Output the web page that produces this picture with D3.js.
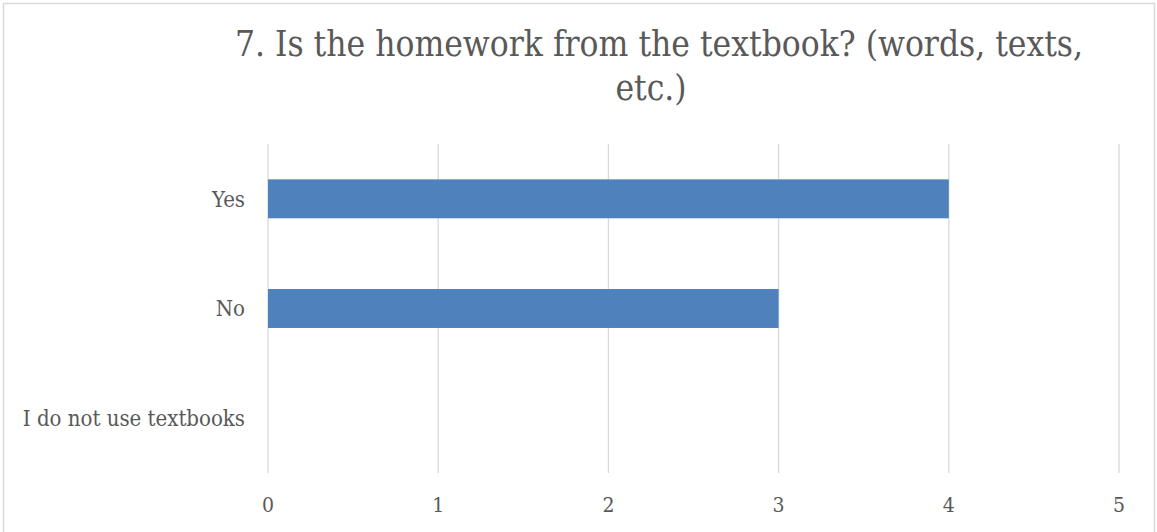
<!DOCTYPE html>
<html><head><meta charset="utf-8">
<script src="https://cdn.jsdelivr.net/npm/d3@7"></script>
<style>body{margin:0;background:#fff}svg{display:block}</style>
</head><body>
<svg id="c" width="1157" height="532"></svg>
<script>
const categories = ["Yes", "No", "I do not use textbooks"];
const values = [4, 3, 0];
const xTicks = [0, 1, 2, 3, 4, 5];
const titleLines = ["7. Is the homework from the textbook? (words, texts,", "etc.)"];

const W = 1157, H = 532;
const svg = d3.select("#c");
const font = "'DejaVu Serif Condensed', 'DejaVu Serif', serif";
const textColor = "#595959";

svg.append("rect").attr("x", 3.5).attr("y", 3.5).attr("width", 1151).attr("height", 540)
  .attr("fill", "#fff").attr("stroke", "#d9d9d9").attr("stroke-width", 1.5);

const x = d3.scaleLinear().domain([0, 5]).range([268, 1119]);
const y = d3.scaleBand().domain(categories).range([144, 473]).paddingInner(0.645).paddingOuter(0.3225);

const g = svg.append("g");
g.selectAll("line.grid").data(xTicks).join("line").attr("class", "grid")
  .attr("x1", d => x(d)).attr("x2", d => x(d)).attr("y1", 144).attr("y2", 473)
  .attr("stroke", "#d9d9d9").attr("stroke-width", 1.3);

g.selectAll("rect.bar").data(values).join("rect").attr("class", "bar")
  .attr("x", x(0)).attr("y", (d, i) => y(categories[i]))
  .attr("width", d => x(d) - x(0)).attr("height", y.bandwidth())
  .attr("fill", "#4f81bd");

g.selectAll("text.xt").data(xTicks).join("text").attr("class", "xt")
  .attr("x", d => x(d)).attr("y", 512).attr("text-anchor", "middle")
  .attr("font-family", font).attr("font-size", 21).attr("fill", textColor)
  .text(d => d);

g.selectAll("text.yt").data(categories).join("text").attr("class", "yt")
  .attr("x", 245).attr("y", d => y(d) + y.bandwidth() / 2).attr("dy", "0.35em")
  .attr("text-anchor", "end")
  .attr("font-family", font).attr("font-size", 22).attr("fill", textColor)
  .text(d => d);

svg.selectAll("text.title").data(titleLines).join("text").attr("class", "title")
  .attr("x", (d, i) => i === 0 ? 659 : 651).attr("y", (d, i) => 56 + i * 44).attr("text-anchor", "middle")
  .attr("font-family", font).attr("font-size", 35).attr("fill", textColor)
  .text(d => d);
</script>
</body></html>
